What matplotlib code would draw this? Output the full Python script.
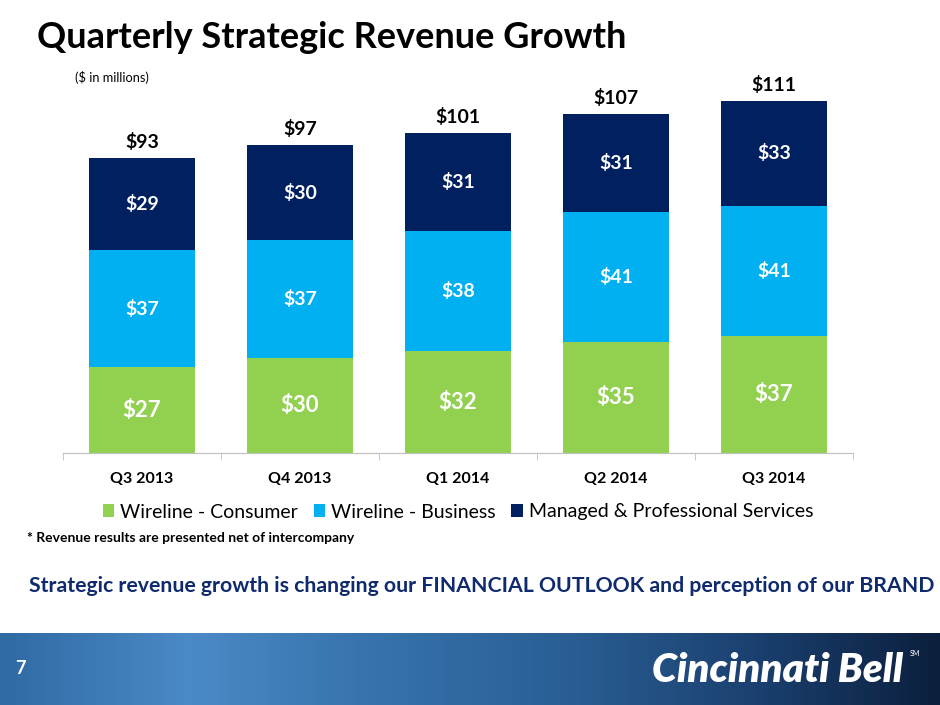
import matplotlib.pyplot as plt
import numpy as np
from matplotlib.colors import LinearSegmentedColormap

plt.rcParams['font.family'] = ['Lato', 'DejaVu Sans']

quarters = ['Q3 2013', 'Q4 2013', 'Q1 2014', 'Q2 2014', 'Q3 2014']
consumer = [27, 30, 32, 35, 37]
business = [37, 37, 38, 41, 41]
managed = [29, 30, 31, 31, 33]
totals = [93, 97, 101, 107, 111]
series_names = ['Wireline - Consumer', 'Wireline - Business', 'Managed & Professional Services']
colors = ['#92D050', '#00B0F0', '#002060']

fig = plt.figure(figsize=(9.4, 7.05), dpi=100)
fig.patch.set_facecolor('white')

# main chart
ax = fig.add_axes([63/940, 252/705, 790/940, 393/705])
x = np.arange(len(quarters))
w = 0.665
ax.bar(x, consumer, w, color=colors[0], label=series_names[0])
ax.bar(x, business, w, bottom=consumer, color=colors[1], label=series_names[1])
bot3 = np.array(consumer) + np.array(business)
ax.bar(x, managed, w, bottom=bot3, color=colors[2], label=series_names[2])

for i in range(len(quarters)):
    ax.text(x[i], consumer[i] / 2, f'${consumer[i]}', ha='center', va='center',
            color='white', fontsize=16, fontweight='bold')
    ax.text(x[i], consumer[i] + business[i] / 2, f'${business[i]}', ha='center', va='center',
            color='white', fontsize=14, fontweight='bold')
    ax.text(x[i], bot3[i] + managed[i] / 2, f'${managed[i]}', ha='center', va='center',
            color='white', fontsize=14, fontweight='bold')
    ax.text(x[i], totals[i] + 2.2, f'${totals[i]}', ha='center', va='bottom',
            color='black', fontsize=14, fontweight='bold')

ax.set_xlim(-0.5, len(quarters) - 0.5)
ax.set_ylim(0, 123.9)
for s in ['top', 'right', 'left']:
    ax.spines[s].set_visible(False)
ax.spines['bottom'].set_color('#BFBFBF')
ax.set_yticks([])
ax.set_xticks(x)
ax.set_xticklabels(quarters, fontsize=11.5, fontweight='bold')
ax.tick_params(axis='x', which='major', length=0, pad=14)
ax.set_xticks(np.arange(-0.5, len(quarters)), minor=True)
ax.tick_params(axis='x', which='minor', length=5, color='#BFBFBF')

ax.legend(loc='center', bbox_to_anchor=(0.5, -(512 - 453) / 393), ncol=3, frameon=False,
          fontsize=14, handlelength=0.6, handleheight=0.6, handletextpad=0.3,
          columnspacing=0.8, borderpad=0)

# slide texts
fig.text(37/940, 1 - 38/705, 'Quarterly Strategic Revenue Growth', fontsize=26,
         fontweight='bold', va='center', ha='left')
fig.text(75/940, 1 - 77/705, '($ in millions)', fontsize=9.2, va='center', ha='left')
fig.text(27/940, 1 - 538/705, '* Revenue results are presented net of intercompany',
         fontsize=10, fontweight='bold', va='center', ha='left')
fig.text(482/940, 1 - 586/705,
         'Strategic revenue growth is changing our FINANCIAL OUTLOOK and perception of our BRAND',
         fontsize=15.3, fontweight='bold', color='#0f2a6e', va='center', ha='center')

# bottom banner
bax = fig.add_axes([0, 0, 1, 72/705])
grad = np.linspace(0, 1, 256).reshape(1, -1)
cmap = LinearSegmentedColormap.from_list(
    'banner', ['#2f6aa3', '#4a8ac6', '#3672ab', '#2a5f95', '#1b4170', '#0c1f3d'])
bax.imshow(grad, aspect='auto', cmap=cmap, extent=[0, 1, 0, 1])
bax.axis('off')
bax.text(15/940, 0.5, '7', color='white', fontsize=13, fontweight='bold', va='center', ha='left')
bax.text(903/940, 0.48, 'Cincinnati Bell', color='white', fontsize=29, fontweight='heavy',
         fontstyle='italic', va='center', ha='right')
bax.text(915/940, 0.72, 'SM', color='white', fontsize=5, va='center', ha='center')

fig.savefig('out.png', dpi=100)
